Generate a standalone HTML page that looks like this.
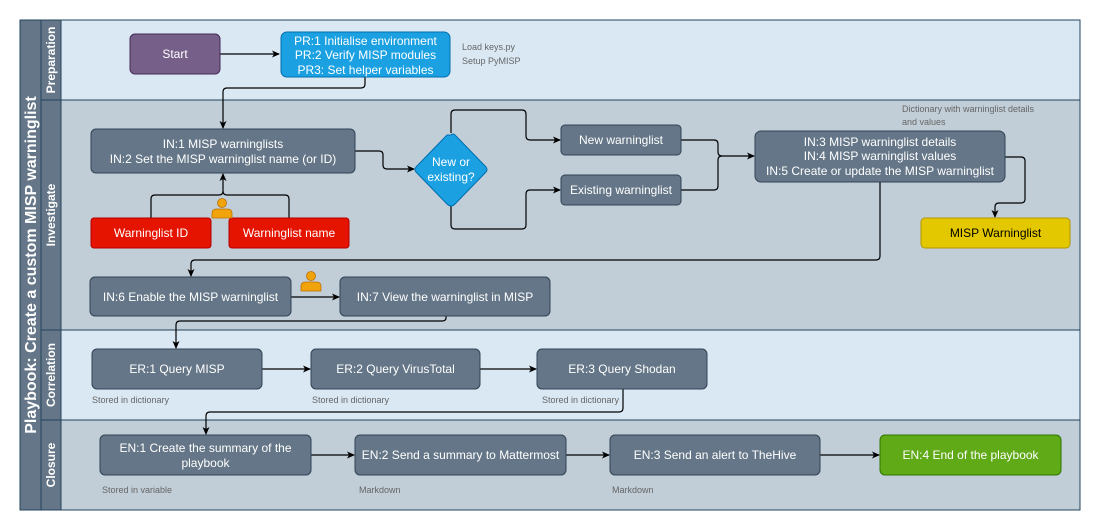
<!DOCTYPE html>
<html><head><meta charset="utf-8"><style>
html,body{margin:0;padding:0;background:#fff;}
svg{display:block;font-family:"Liberation Sans",Arial,sans-serif;}
.n{fill:#647687;stroke:#314354;stroke-width:1;}
.t{fill:#fff;font-size:12px;text-anchor:middle;}
.note{fill:#666;font-size:9px;}
.c{fill:none;stroke:#000;stroke-width:1.2;}
</style></head><body>
<svg width="1101" height="531" viewBox="0 0 1101 531">
<defs><marker id="a" markerWidth="8" markerHeight="8" refX="7" refY="4" orient="auto" markerUnits="userSpaceOnUse"><path d="M0,0.5 L8,4 L0,7.5 L2,4 Z" fill="#000"/></marker></defs>
<!-- lanes -->
<rect x="61" y="20" width="1019" height="80" fill="#dae8f3"/>
<rect x="61" y="100" width="1019" height="230" fill="#c1ced8"/>
<rect x="61" y="330" width="1019" height="90" fill="#dae8f3"/>
<rect x="61" y="420" width="1019" height="90" fill="#c1ced8"/>
<rect x="20" y="20" width="41" height="490" fill="#647687"/>
<g stroke="#23445d" stroke-width="1" fill="none">
<rect x="20" y="20" width="1060" height="490"/>
<line x1="41" y1="20" x2="41" y2="510"/>
<line x1="61" y1="20" x2="61" y2="510"/>
<line x1="41" y1="100" x2="1080" y2="100"/>
<line x1="41" y1="330" x2="1080" y2="330"/>
<line x1="41" y1="420" x2="1080" y2="420"/>
</g>
<text transform="translate(36,265) rotate(-90)" fill="#fff" font-size="16" font-weight="bold" text-anchor="middle">Playbook: Create a custom MISP warninglist</text>
<g fill="#fff" font-size="12" font-weight="bold" text-anchor="middle">
<text transform="translate(55,60) rotate(-90)">Preparation</text>
<text transform="translate(55,215) rotate(-90)">Investigate</text>
<text transform="translate(55,375) rotate(-90)">Correlation</text>
<text transform="translate(55,465) rotate(-90)">Closure</text>
</g>
<!-- connectors -->
<path class="c" d="M220,54 H279" marker-end="url(#a)"/>
<path class="c" d="M365,77 V84 Q365,88 361,88 H227 Q223,88 223,92 V128" marker-end="url(#a)"/>
<path class="c" d="M151,218 V199 Q151,195 155,195 H219 Q223,195 223,191 V174" marker-end="url(#a)"/>
<path class="c" d="M289,218 V199 Q289,195 285,195 H227 Q223,195 223,191"/>
<path class="c" d="M355,151 H379 Q383,151 383,155 V165 Q383,169 387,169 H414" marker-end="url(#a)"/>
<path class="c" d="M451,133 V114 Q451,110 455,110 H522 Q526,110 526,114 V136 Q526,140 530,140 H560" marker-end="url(#a)"/>
<path class="c" d="M451,206 V225 Q451,229 455,229 H522 Q526,229 526,225 V194 Q526,190 530,190 H560" marker-end="url(#a)"/>
<path class="c" d="M681,140 H714 Q718,140 718,144 V152 Q718,156 722,156 H754" marker-end="url(#a)"/>
<path class="c" d="M681,190 H714 Q718,190 718,186 V160 Q718,156 722,156"/>
<path class="c" d="M1005,157 H1021 Q1025,157 1025,161 V199 Q1025,203 1021,203 H999 Q995,203 995,207 V217" marker-end="url(#a)"/>
<path class="c" d="M880,182 V256 Q880,260 876,260 H195 Q191,260 191,264 V276" marker-end="url(#a)"/>
<path class="c" d="M291,297 H339" marker-end="url(#a)"/>
<path class="c" d="M446,316 V318 Q446,321 442,321 H180 Q176,321 176,325 V348" marker-end="url(#a)"/>
<path class="c" d="M262,369 H310" marker-end="url(#a)"/>
<path class="c" d="M480,369 H536" marker-end="url(#a)"/>
<path class="c" d="M623,389 V408 Q623,412 619,412 H210 Q206,412 206,416 V434" marker-end="url(#a)"/>
<path class="c" d="M311,455 H354" marker-end="url(#a)"/>
<path class="c" d="M566,455 H609" marker-end="url(#a)"/>
<path class="c" d="M820,455 H879" marker-end="url(#a)"/>
<!-- nodes -->
<rect x="130" y="34" width="90" height="40" rx="5" fill="#76608a" stroke="#432d57"/>
<text class="t" x="175" y="58">Start</text>
<rect x="281" y="32" width="169" height="45" rx="6" fill="#1ba1e2" stroke="#006eaf"/>
<text class="t" x="365.5" y="45">PR:1 Initialise environment</text>
<text class="t" x="365.5" y="59">PR:2 Verify MISP modules</text>
<text class="t" x="365.5" y="74">PR3: Set helper variables</text>
<text class="note" x="462" y="50">Load keys.py</text>
<text class="note" x="462" y="64">Setup PyMISP</text>

<rect class="n" x="91" y="129" width="264" height="44" rx="5"/>
<text class="t" x="223" y="148">IN:1 MISP warninglists</text>
<text class="t" x="223" y="163">IN:2 Set the MISP warninglist name (or ID)</text>
<path d="M451,135 Q453,133 455,135 L486,167 Q488,169.5 486,172 L455,204 Q451,208 447,204 L416,172 Q414,169.5 416,167 L447,135 Z" fill="#1ba1e2" stroke="#006eaf"/>
<text class="t" x="451" y="166">New or</text>
<text class="t" x="451" y="181">existing?</text>
<rect x="91" y="218" width="120" height="30" rx="3" fill="#e51400" stroke="#b20000"/>
<text class="t" x="151" y="237">Warninglist ID</text>
<rect x="229" y="218" width="120" height="30" rx="3" fill="#e51400" stroke="#b20000"/>
<text class="t" x="289" y="237">Warninglist name</text>
<g fill="#f0a30a" stroke="#bd7000" stroke-width="0.8">
<circle cx="222" cy="203" r="4.5"/><path d="M212,218 V213 Q212,209 217,209 H227 Q232,209 232,213 V218 Z"/>
<circle cx="311" cy="276" r="4.5"/><path d="M301,291 V286 Q301,282 306,282 H316 Q321,282 321,286 V291 Z"/>
</g>
<rect class="n" x="561" y="125" width="120" height="30" rx="4"/>
<text class="t" x="621" y="144">New warninglist</text>
<rect class="n" x="561" y="175" width="120" height="30" rx="4"/>
<text class="t" x="621" y="194">Existing warninglist</text>
<rect class="n" x="755" y="131" width="250" height="51" rx="6"/>
<text class="t" x="880" y="146">IN:3 MISP warninglist details</text>
<text class="t" x="880" y="160">IN:4 MISP warninglist values</text>
<text class="t" x="880" y="175">IN:5 Create or update the MISP warninglist</text>
<text class="note" x="902" y="112">Dictionary with warninglist details</text>
<text class="note" x="902" y="125">and values</text>
<rect x="921" y="218" width="149" height="30" rx="4" fill="#e3c800" stroke="#b09500"/>
<text x="995.5" y="237" font-size="12" text-anchor="middle" fill="#000">MISP Warninglist</text>

<rect class="n" x="90" y="277" width="201" height="39" rx="5"/>
<text class="t" x="190.5" y="301">IN:6 Enable the MISP warninglist</text>
<rect class="n" x="340" y="277" width="210" height="39" rx="5"/>
<text class="t" x="445" y="301">IN:7 View the warninglist in MISP</text>

<rect class="n" x="92" y="349" width="170" height="40" rx="5"/>
<text class="t" x="177" y="373">ER:1 Query MISP</text>
<rect class="n" x="311" y="349" width="169" height="40" rx="5"/>
<text class="t" x="395.5" y="373">ER:2 Query VirusTotal</text>
<rect class="n" x="537" y="349" width="170" height="40" rx="5"/>
<text class="t" x="622" y="373">ER:3 Query Shodan</text>
<text class="note" x="92" y="403">Stored in dictionary</text>
<text class="note" x="312" y="403">Stored in dictionary</text>
<text class="note" x="542" y="403">Stored in dictionary</text>

<rect class="n" x="100" y="435" width="211" height="40" rx="5"/>
<text class="t" x="205.5" y="452">EN:1 Create the summary of the</text>
<text class="t" x="205.5" y="467">playbook</text>
<rect class="n" x="355" y="435" width="211" height="40" rx="5"/>
<text class="t" x="460.5" y="459">EN:2 Send a summary to Mattermost</text>
<rect class="n" x="610" y="435" width="210" height="40" rx="5"/>
<text class="t" x="715" y="459">EN:3 Send an alert to TheHive</text>
<rect x="880" y="435" width="181" height="40" rx="5" fill="#60a917" stroke="#2d7600"/>
<text class="t" x="970.5" y="459">EN:4 End of the playbook</text>
<text class="note" x="102" y="493">Stored in variable</text>
<text class="note" x="359" y="493">Markdown</text>
<text class="note" x="612" y="493">Markdown</text>
</svg>
</body></html>
